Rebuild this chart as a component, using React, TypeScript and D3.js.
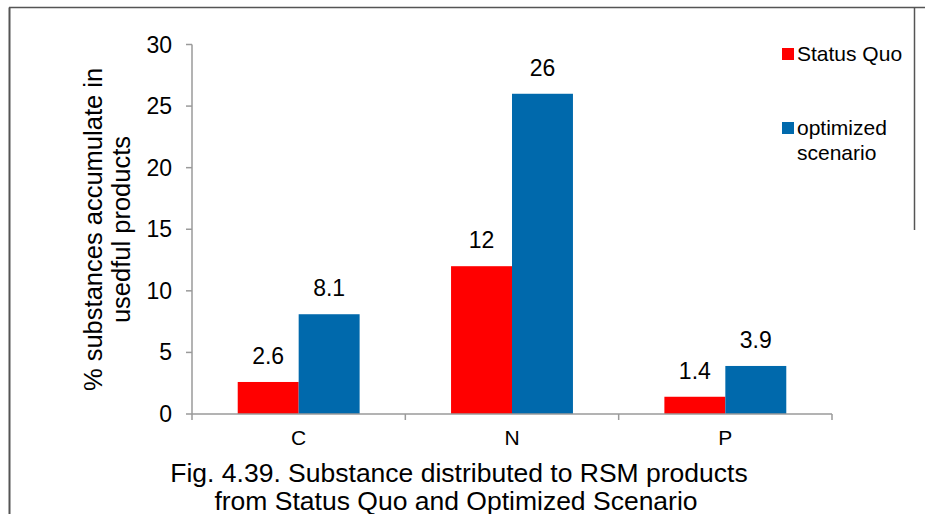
import React from "react";
import * as d3 from "d3";

const categories = ["C", "N", "P"];
const seriesNames = ["Status Quo", "optimized scenario"];
const statusQuo = [2.6, 12, 1.4];
const optimized = [8.1, 26, 3.9];
const yTicks = [0, 5, 10, 15, 20, 25, 30];
const colors = ["#FF0000", "#0069AC"];

const W = 925;
const H = 514;
const FONT = "'Liberation Sans', Arial, sans-serif";

export default function App() {
  const x0 = d3.scaleBand<string>().domain(categories).range([192, 832]).padding(0);
  const x1 = d3
    .scaleBand<string>()
    .domain(seriesNames)
    .range([0, x0.bandwidth()])
    .paddingInner(0)
    .paddingOuter(0.75);
  const y = d3.scaleLinear().domain([0, 30]).range([414, 44.5]);
  const values = [statusQuo, optimized];
  const axisColor = "#9a9a9a";

  return (
    <svg
      width={W}
      height={H}
      style={{ position: "absolute", left: 0, top: 0, background: "#fff" }}
      fontFamily={FONT}
    >
      <rect x={0} y={0} width={W} height={H} fill="#fff" />
      {/* outer frame */}
      <line x1={9.5} x2={9.5} y1={7.5} y2={H} stroke="#555" strokeWidth={2} />
      <line x1={9} x2={W} y1={7.5} y2={7.5} stroke="#555" strokeWidth={1.5} />
      <line x1={914.5} x2={914.5} y1={7.5} y2={230} stroke="#555" strokeWidth={1.5} />

      {/* bars */}
      {seriesNames.map((s, si) =>
        categories.map((c, ci) => {
          const v = values[si][ci];
          const bx = (x0(c) ?? 0) + (x1(s) ?? 0);
          return (
            <rect
              key={s + c}
              x={bx}
              y={y(v)}
              width={x1.bandwidth()}
              height={y(0) - y(v)}
              fill={colors[si]}
            />
          );
        })
      )}

      {/* data labels */}
      {seriesNames.map((s, si) =>
        categories.map((c, ci) => {
          const v = values[si][ci];
          const bx = (x0(c) ?? 0) + (x1(s) ?? 0) + x1.bandwidth() / 2;
          return (
            <text
              key={"l" + s + c}
              x={bx}
              y={y(v) - 18}
              textAnchor="middle"
              fontSize={23}
              fill="#000"
            >
              {String(v)}
            </text>
          );
        })
      )}

      {/* y axis */}
      <line x1={192} x2={192} y1={y(30)} y2={y(0)} stroke={axisColor} strokeWidth={1.5} />
      {yTicks.map((t) => (
        <g key={"yt" + t}>
          <line x1={186} x2={192} y1={y(t)} y2={y(t)} stroke={axisColor} strokeWidth={1.5} />
          <text x={172} y={y(t) + 8} textAnchor="end" fontSize={23} fill="#000">
            {t}
          </text>
        </g>
      ))}

      {/* x axis */}
      <line x1={192} x2={832} y1={y(0)} y2={y(0)} stroke={axisColor} strokeWidth={1.5} />
      {[...categories.map((c) => x0(c) ?? 0), 832].map((xv, i) => (
        <line key={"xt" + i} x1={xv} x2={xv} y1={y(0)} y2={y(0) + 6} stroke={axisColor} strokeWidth={1.5} />
      ))}
      {categories.map((c) => (
        <text
          key={"xl" + c}
          x={(x0(c) ?? 0) + x0.bandwidth() / 2}
          y={445}
          textAnchor="middle"
          fontSize={21}
          fill="#000"
        >
          {c}
        </text>
      ))}

      {/* y axis title */}
      <g transform="translate(102, 229.5) rotate(-90)">
        <text x={0} y={0} textAnchor="middle" fontSize={25.5} fill="#000">
          % substances accumulate in
        </text>
        <text x={0} y={28} textAnchor="middle" fontSize={25.5} fill="#000">
          usedful products
        </text>
      </g>

      {/* legend */}
      <rect x={782} y={48} width={12} height={12} fill={colors[0]} />
      <text x={797} y={61} fontSize={21} fill="#000">
        Status Quo
      </text>
      <rect x={782} y={122} width={12} height={12} fill={colors[1]} />
      <text x={797} y={135} fontSize={21} fill="#000">
        optimized
      </text>
      <text x={797} y={160} fontSize={21} fill="#000">
        scenario
      </text>

      {/* caption */}
      <text x={459} y={482} textAnchor="middle" fontSize={26.5} fill="#000">
        Fig. 4.39. Substance distributed to RSM products
      </text>
      <text x={456} y={510} textAnchor="middle" fontSize={26.5} fill="#000">
        from Status Quo and Optimized Scenario
      </text>
    </svg>
  );
}
